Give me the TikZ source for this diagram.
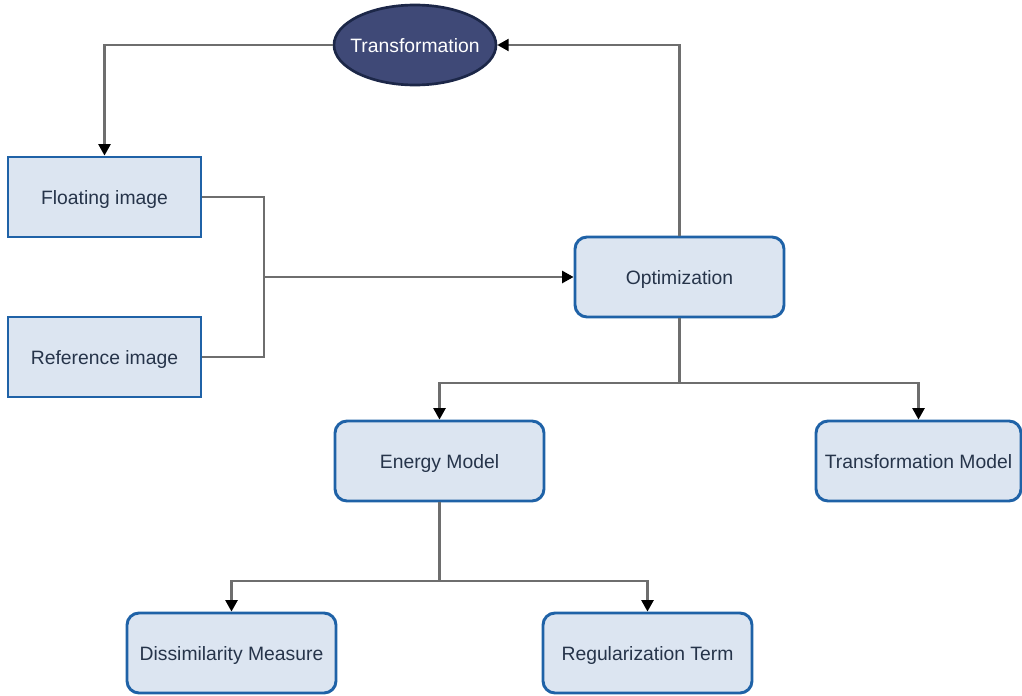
\documentclass[tikz,border=0pt]{standalone}
\usepackage{fontspec}
\setmainfont{Liberation Sans}
\usetikzlibrary{arrows.meta,shapes.geometric}
\definecolor{boxfill}{HTML}{DCE5F1}
\definecolor{boxline}{HTML}{1F62A7}
\definecolor{boxtext}{HTML}{26344A}
\definecolor{ellfill}{HTML}{3F4977}
\definecolor{ellline}{HTML}{1C2748}
\definecolor{connline}{HTML}{6E6E6E}
\begin{document}
\begin{tikzpicture}[x=0.75pt,y=-0.75pt,
  base/.style={draw=boxline,fill=boxfill,line width=2.2pt,text=boxtext,
    font=\fontsize{14.5pt}{17pt}\selectfont,inner sep=0pt,minimum height=60pt,text depth=0pt},
  sqbox/.style={base,minimum width=144.75pt},
  rbox/.style={base,rounded corners=9pt,minimum width=156.75pt},
  ell/.style={ellipse,draw=ellline,fill=ellfill,line width=2pt,text=white,
    font=\fontsize{14.5pt}{17pt}\selectfont,inner ysep=0pt,inner xsep=-9pt,
    minimum width=121.5pt,minimum height=60pt,text depth=0pt},
  line/.style={draw=connline,line width=1.6pt},
  conn/.style={line,-{Triangle[length=8.5pt,width=9pt,color=black]}}]
\useasboundingbox (0,0) rectangle (1022,696);
\node[ell] (T) at (415,45) {Transformation};
\node[sqbox] (F) at (104.5,197) {Floating image};
\node[sqbox] (R) at (104.5,357) {Reference image};
\node[rbox] (O) at (679.5,277) {Optimization};
\node[rbox] (E) at (439.5,461) {Energy Model};
\node[rbox,minimum width=153.75pt] (TM) at (918.5,461) {Transformation Model};
\node[rbox] (D) at (231.5,653) {Dissimilarity Measure};
\node[rbox] (G) at (647.5,653) {Regularization Term};
\coordinate (J) at (264,277);
\coordinate (B1) at (679.5,383);
\coordinate (B2) at (439.5,581);
\draw[conn] (T.west) -| (F.north);
\draw[line] (F.east) -| (J);
\draw[line] (R.east) -| (J);
\draw[conn] (J) -- (O.west);
\draw[conn] (O.north) |- (T.east);
\draw[line] (O.south) -- (B1);
\draw[conn] (B1) -| (E.north);
\draw[conn] (B1) -| (TM.north);
\draw[line] (E.south) -- (B2);
\draw[conn] (B2) -| (D.north);
\draw[conn] (B2) -| (G.north);
\end{tikzpicture}
\end{document}
